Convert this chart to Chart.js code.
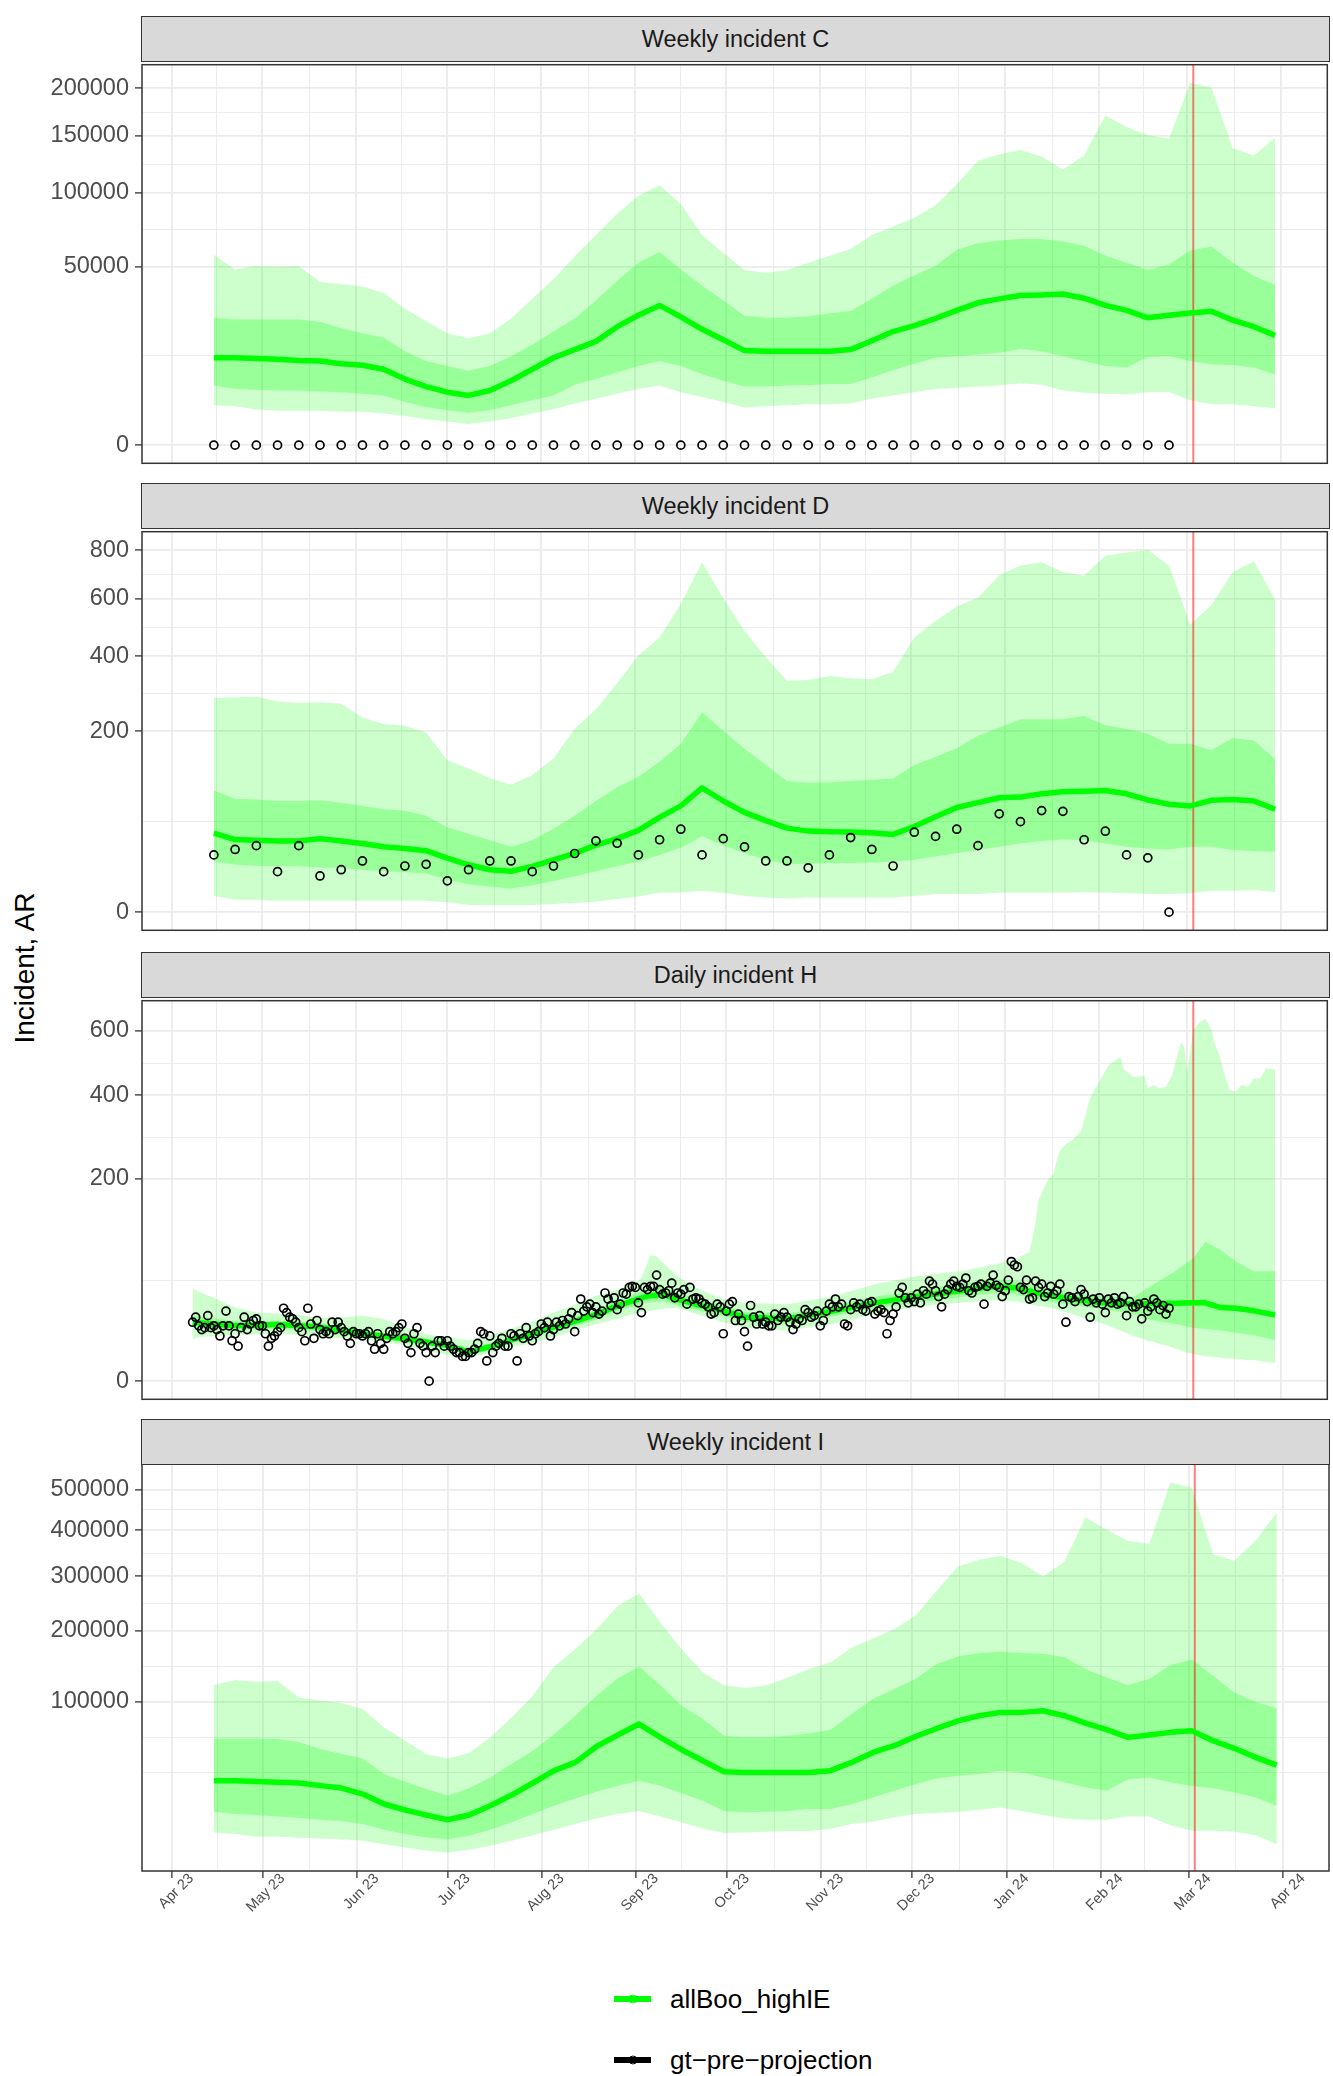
<!DOCTYPE html>
<html>
<head>
<meta charset="utf-8">
<script src="https://cdn.jsdelivr.net/npm/chart.js@4.4.1/dist/chart.umd.min.js"></script>
<style>
  body { margin: 0; background: #fff; font-family: "Liberation Sans", Arial, Helvetica, sans-serif; }
  #page { position: relative; width: 1333px; height: 2076px; overflow: hidden; background: #fff; }
  .panel { position: absolute; left: 0; }
  .strip { position: absolute; left: 141px; width: 1189px; height: 46px; box-sizing: border-box;
           background: #d9d9d9; border: 1.5px solid #333; color: #1a1a1a; font-size: 23.5px;
           display: flex; align-items: center; justify-content: center; }
  #ytitle { position: absolute; left: 25px; top: 968px; transform: translate(-50%, -50%) rotate(-90deg);
            font-size: 28px; color: #000; white-space: nowrap; }
  .legend-row { position: absolute; left: 614px; height: 30px; display: flex; align-items: center;
                font-size: 26px; color: #000; white-space: nowrap; }
  .key { position: relative; width: 37px; height: 6px; margin-right: 19px; }
  .key i { position: absolute; left: 50%; top: 50%; width: 7px; height: 7px; border-radius: 50%;
           transform: translate(-50%, -50%); border: 1.5px solid; background: transparent; }
</style>
</head>
<body>
<div id="page">
  <div id="ytitle">Incident, AR</div>
  <div class="legend-row" style="top:1984px"><div class="key" style="background:#00ff00"><i style="border-color:#00ff00"></i></div>allBoo_highIE</div>
  <div class="legend-row" style="top:2045px"><div class="key" style="background:#000"><i style="border-color:#000"></i></div>gt−pre−projection</div>
</div>
<script>
// ---- data -------------------------------------------------------------
const panelTitles = ['Weekly incident C', 'Weekly incident D', 'Daily incident H', 'Weekly incident I'];

const weekDates = [
  '2023-04-15','2023-04-22','2023-04-29','2023-05-06','2023-05-13','2023-05-20','2023-05-27','2023-06-03','2023-06-10','2023-06-17',
  '2023-06-24','2023-07-01','2023-07-08','2023-07-15','2023-07-22','2023-07-29','2023-08-05','2023-08-12','2023-08-19','2023-08-26',
  '2023-09-02','2023-09-09','2023-09-16','2023-09-23','2023-09-30','2023-10-07','2023-10-14','2023-10-21','2023-10-28','2023-11-04',
  '2023-11-11','2023-11-18','2023-11-25','2023-12-02','2023-12-09','2023-12-16','2023-12-23','2023-12-30','2024-01-06','2024-01-13',
  '2024-01-20','2024-01-27','2024-02-03','2024-02-10','2024-02-17','2024-02-24','2024-03-02','2024-03-09','2024-03-16','2024-03-23',
  '2024-03-30'
];
const projectionStart = '2024-03-03';

// Weekly incident C
const cMedian = [11990,12000,11810,11600,11280,11100,10420,10010,9050,6860,5390,4410,3884,4690,6520,9050,11990,14330,16890,22030,26500,30650,25830,21060,17430,14040,13850,13850,13850,13850,14330,17110,20240,22400,25180,28530,31810,33590,35110,35410,35880,33890,30650,28530,25440,26500,27430,28120,24530,22030,18870];
const cUpper95 = [56930,48480,50310,49930,50310,41860,40690,39550,36360,29240,24150,19660,17980,19660,25180,33590,43210,55970,69290,84040,97610,105980,91320,69290,57930,48120,46700,48120,52170,56350,60330,69290,74800,81210,90090,106800,126950,132860,136750,130760,119180,131640,170480,158830,150770,147600,206000,200460,138300,131640,148230];
const cUpper50 = [25440,24780,24780,24780,24780,23900,21430,19660,18200,13850,11100,9840,8670,9840,12440,15850,20240,25180,32850,42360,52170,58520,48480,39870,32850,26240,25440,25440,26090,27160,28260,33590,39870,45280,50310,59920,64000,65680,66720,66720,65030,62350,56350,52170,48120,51220,59500,61950,52170,44920,40200];
const cLower50 = [5570,4970,4800,4690,4690,4520,4410,4140,3885,2930,2300,1925,1647,1925,2500,3155,3885,5750,6860,8290,9840,11100,9840,7920,6520,5390,5390,5570,5690,5880,5880,7210,8820,10420,11990,12440,12900,13370,14530,13850,12440,11100,9840,9440,12170,12440,11100,10260,10090,9440,7920];
const cLower95 = [2500,2380,2000,1853,1853,1853,1750,1750,1582,1332,1049,871,711,871,1130,1582,2034,2710,3390,4140,4970,5570,4410,3630,2930,2220,2380,2500,2630,2630,2710,3390,3885,4410,4970,5150,5390,5570,6000,5750,4690,4300,4140,4040,4410,4410,3155,2630,2630,2380,2110];
const cObserved = [0,0,0,0,0,0,0,0,0,0,0,0,0,0,0,0,0,0,0,0,0,0,0,0,0,0,0,0,0,0,0,0,0,0,0,0,0,0,0,0,0,0,0,0,0,0];

// Weekly incident D
const dMedian = [38.2,32.2,31.6,31,31,33,31,28.8,26.1,24.8,23.1,17.8,13.7,11,10.2,12.8,16.7,21.1,27.4,33,40.8,54.9,69,94.2,75.4,60.7,51.2,43.1,40.1,39.5,39.2,38.5,36.9,44.8,55.6,66.8,73.2,79.9,80.8,85.5,88.4,89.3,90.3,85.5,76.8,71,68.9,76.3,77.6,75.4,64.7];
const dUpper95 = [280,282,284,271,267,269,265,231,216,212,197,141,126,110,99,115,144,205,251,320,402,460,580,747,601,483,397,327,329,340,334,331,352,460,517,570,604,692,733,747,706,690,775,789,801,733,505,576,706,750,595];
const dUpper50 = [90.3,78.6,77.6,75.4,75.4,76.3,73.2,68.9,64.7,62.7,56.8,44.1,37.6,31.6,26.1,31.6,42.4,56.8,75.4,95.2,112,138,173,244,201,163,132,105,102,103,105,107,109,132,147,164,190,208,227,227,227,235,213,205,194,173,173,160,185,180,143];
const dLower50 = [15.7,13.7,13.2,12.8,12.8,12.2,11.9,11,10.2,9.7,9.1,6.5,4.7,4,3.4,4.4,5.9,7.9,10.2,12.8,15.7,20,25.4,35.1,27.4,21.1,16.7,14.1,14.3,14.7,14.7,15.1,15.7,16.7,18.9,21.1,23.6,26.1,28.8,31,32.2,31.6,28.8,26.1,24.8,24,26.1,26.1,23.6,22.8,22.3];
const dLower95 = [1.6,0.94,0.94,0.8,0.8,0.8,0.8,0.8,0.8,0.8,0.8,0.59,0.32,0.32,0.32,0.32,0.41,0.51,0.67,1.04,1.5,2.3,2.35,2.8,2.3,1.6,1.3,1.15,1.3,1.3,1.3,1.3,1.3,1.6,2,2,2,2.3,2.3,2.3,2.3,2.5,2.3,2.2,2,2,2.2,2.8,2.8,3,2.5];
const dObserved = [20,24,27,10,27,8,11,16,10,13,14,6,11,16,16,10,13,21,31,29,20,32,42,20,33,26,16,16,12,20,34,24,13,39,35,42,27,59,50,63,62,32,40,20,18,0];

// Daily incident H
const hObsStart = '2023-04-08';
const hObserved = [
  17,20,15,13,14,21,14,15,13,10,15,24,15,8,11,6,14,20,13,16,18,19,15,
  15,11,6,9,10,12,14,26,23,20,19,17,14,12,8,26,16,9,18,13,11,12,11,17,13,17,14,12,10,7,12,
  11,11,10,11,12,8,5,11,7,5,9,12,11,12,14,16,9,7,4,11,14,7,6,4,0,6,4,8,8,6,
  8,6,5,4,4,3,3,4,4,5,7,12,11,2,10,4,6,7,9,6,6,11,10,2,11,9,14,10,8,11,12,
  16,14,17,10,13,17,15,18,16,19,23,12,21,33,24,27,29,23,27,22,24,38,33,28,34,25,29,38,37,43,44,
  43,30,23,43,41,44,44,55,41,37,38,40,47,34,38,37,41,29,43,33,34,33,30,29,27,22,23,29,27,11,
  24,29,31,18,22,18,12,6,28,20,16,21,16,17,15,15,22,18,20,23,20,17,13,16,19,18,25,23,20,21,24,
  15,18,24,29,27,33,27,29,16,15,25,30,27,29,25,24,30,31,22,24,25,23,11,18,22,27,38,43,34,30,
  34,31,37,30,40,37,49,46,40,35,27,37,41,46,49,44,43,46,52,40,38,43,44,46,29,44,47,55,45,43,35,
  40,50,70,66,64,43,41,50,33,34,49,43,46,35,38,44,37,40,46,29,17,35,34,31,35,41,37,31,20,33,30,
  34,29,23,33,30,34,29,30,35,21,31,27,27,29,19,30,24,27,33,30,25,28,22,26
];
const hOuterDates = [
  '2023-04-08','2023-04-11','2023-04-15','2023-04-22','2023-04-29','2023-05-06','2023-05-13','2023-05-20','2023-05-27','2023-06-03',
  '2023-06-10','2023-06-17','2023-06-24','2023-07-01','2023-07-08','2023-07-15','2023-07-22','2023-07-29','2023-08-05','2023-08-12',
  '2023-08-19','2023-08-26','2023-08-31','2023-09-03','2023-09-06','2023-09-08','2023-09-11','2023-09-15','2023-09-23','2023-09-30',
  '2023-10-07','2023-10-21','2023-11-05','2023-11-19','2023-12-03','2023-12-17','2023-12-28','2024-01-05','2024-01-09','2024-01-11',
  '2024-01-12','2024-01-14','2024-01-15','2024-01-17','2024-01-18','2024-01-19','2024-01-21','2024-01-23','2024-01-26','2024-01-29',
  '2024-02-01','2024-02-04','2024-02-07','2024-02-08','2024-02-09','2024-02-12','2024-02-14','2024-02-16','2024-02-17','2024-02-19',
  '2024-02-21','2024-02-23','2024-02-25','2024-02-27','2024-02-28','2024-02-29','2024-03-01','2024-03-03','2024-03-05','2024-03-07',
  '2024-03-09','2024-03-10','2024-03-12','2024-03-13','2024-03-15','2024-03-17','2024-03-19','2024-03-21','2024-03-23','2024-03-25',
  '2024-03-27','2024-03-30'
];
const hUpper95 = [42,38,34,26.5,23,22.4,21.6,19.5,19.9,20.9,18.9,14.3,10.7,9.5,8.2,10.3,13.4,17,23,28.4,35.4,41,45.6,52,78,76,66,53.6,40,33,30,29,35,46,54,59,66,74,82,123,161,185,198,211,239,260,275,283,306,392,438,488,508,513,477,453,453,456,419,429,419,424,458,529,561,545,468,605,628,642,605,561,508,468,415,410,429,424,448,448,477,475];
const hLower95 = [8.8,9.5,10,10.3,10.8,11,10.5,9.5,9,8.4,7.5,6.3,4.5,3.4,2.8,3.8,5.8,6.9,9.5,12.6,16,18.9,22,23,24,25,26,26,21,17,14,12.6,16,22,27,30,32,31,29,28,27.5,27,26.5,26,25,24.5,23,22,20,18,17,15,13,12.5,12,10,9.2,8.5,8,7.5,6.8,6.3,5.6,4.9,4.6,4.3,4,3.6,3.3,3.1,2.9,2.8,2.7,2.6,2.5,2.4,2.3,2.2,2.2,2,1.8,1.6];
const hInnerDates = [
  '2023-04-08','2023-04-22','2023-05-06','2023-05-20','2023-06-03','2023-06-17','2023-07-01','2023-07-08','2023-07-15','2023-07-22',
  '2023-07-29','2023-08-05','2023-08-12','2023-08-19','2023-08-26','2023-09-05','2023-09-10','2023-09-15','2023-09-23','2023-09-30',
  '2023-10-07','2023-10-21','2023-11-05','2023-11-19','2023-12-03','2023-12-17','2023-12-28','2024-01-05','2024-01-13','2024-01-23',
  '2024-02-02','2024-02-12','2024-02-19','2024-02-26','2024-03-03','2024-03-07','2024-03-12','2024-03-17','2024-03-23','2024-03-30'
];
const hLower50 = [14,13,13.5,12.3,9.5,7.5,5.3,3.5,4.9,7,9.5,12.3,15,18.5,24,30,31.5,28,23.7,20.7,17,16.2,20.5,25.8,30,34.4,38,36.5,31.8,28.3,25.7,22,18,16,14,13.3,12.6,11.5,10.3,8.2];
const hMedian = [17,15,15.7,14.3,11,8.8,6.3,4.2,5.8,8.2,11,14.3,17.5,21.6,27.7,35.4,36.8,32.7,27.7,24.2,20,19,24,30,35,40,44,42.5,37,33,30,29,29.5,29.7,30,30,26.5,26,24.2,21.4];
const hUpper50 = [21,17.5,18,16.5,12.8,10.3,7.4,5,6.8,9.6,12.8,16.5,20.3,25,32,41,44,38,32,28,23.3,22.2,28,34.8,40.5,46.3,51,49,43,38.5,35,34,46,59,74,95,84,70,59,59];

// Weekly incident I
const iMedian = [29200,29200,28800,28200,27800,26200,24800,21400,16400,13700,11600,9800,11600,15600,20900,27800,35900,41900,54800,65100,75800,62900,52000,43100,35100,34700,34700,34700,34700,35900,41900,49700,55400,63700,71400,79100,84500,88100,88100,89900,84500,76800,70200,62900,65100,67600,69200,59900,53200,45800,39900];
const iUpper95 = [120500,126900,124800,125600,105200,101200,98600,91800,72400,59700,48300,44900,49200,62900,82700,107300,145500,170900,202600,243200,266000,213800,170900,137200,120300,116900,120300,130400,141800,151200,173300,187400,202600,225400,271200,319900,334000,342500,327000,299400,329700,430000,400700,375500,368300,518700,505500,346000,331700,375500,442200];
const iUpper50 = [61900,61900,61900,61300,58400,52600,48400,44900,33600,28600,24200,20600,24600,31300,40700,51200,65900,84500,107300,129200,145500,120300,95500,80900,64500,62900,62900,64500,66600,70100,86200,103200,115500,128300,148800,159900,164800,166900,164800,163900,159000,141800,130400,120300,128300,147400,155000,132700,111300,100200,92500];
const iLower50 = [12900,12000,11600,11000,10500,9800,9300,8300,6500,5300,4400,4000,4870,6500,8900,12000,15600,19100,22700,26100,29200,26100,21800,18000,13300,12700,12900,13300,14100,14100,16300,19600,23200,27100,30700,32500,33600,35900,34700,31300,28200,25200,23200,30200,31300,28200,26000,24800,22300,19600,15600];
const iLower95 = [5720,5300,4570,4570,4330,4170,4000,3640,2930,2300,1750,1500,1910,2610,3640,5000,6500,8300,10300,12000,13300,11000,8800,6900,5540,5720,5900,6100,6100,6740,8300,9100,10700,12000,12400,12900,13800,14800,13300,11600,10300,9800,9800,11000,11000,7900,6200,6200,5900,5000,2930];

// axes
const monthStarts = ['2023-04-01','2023-05-01','2023-06-01','2023-07-01','2023-08-01','2023-09-01','2023-10-01','2023-11-01','2023-12-01','2024-01-01','2024-02-01','2024-03-01','2024-04-01'];
const monthLabels = ['Apr 23','May 23','Jun 23','Jul 23','Aug 23','Sep 23','Oct 23','Nov 23','Dec 23','Jan 24','Feb 24','Mar 24','Apr 24'];
const yBreaks = [
  [0, 50000, 100000, 150000, 200000],
  [0, 200, 400, 600, 800],
  [0, 200, 400, 600],
  [0, 100000, 200000, 300000, 400000, 500000]
];

// ---- helpers ----------------------------------------------------------
const FONT = '"Liberation Sans", Arial, Helvetica, sans-serif';
const dayNum = s => { const [y, m, d] = s.split('-').map(Number); return Date.UTC(y, m - 1, d) / 86400000; };
const sgnSqrt = v => v < 0 ? -Math.sqrt(-v) : Math.sqrt(v);
const unSqrt = t => t < 0 ? -t * t : t * t;
const xMin = dayNum('2023-04-01') - 9.7;
const xMax = dayNum('2023-04-01') + 381.2;

class SqrtScale extends Chart.LinearScale {
  getPixelForValue(v) {
    if (v === null || v === undefined || isNaN(v)) return NaN;
    const a = sgnSqrt(this._startValue), b = sgnSqrt(this._endValue);
    return this.getPixelForDecimal((sgnSqrt(v) - a) / (b - a));
  }
  getValueForPixel(p) {
    const a = sgnSqrt(this._startValue), b = sgnSqrt(this._endValue);
    return unSqrt(a + this.getDecimalForPixel(p) * (b - a));
  }
}
SqrtScale.id = 'sqrt';
SqrtScale.defaults = {};
Chart.register(SqrtScale);

// ggplot-like minor breaks: midpoints (in transformed space) plus one step beyond
function withMinors(majorT, lo, hi) {
  const b = majorT.filter(t => t >= lo && t <= hi);
  const ext = b.slice();
  const bd = b[1] - b[0];
  if (lo < b[0]) ext.unshift(b[0] - bd);
  if (hi > b[b.length - 1]) ext.push(b[b.length - 1] + bd);
  const out = [];
  for (let i = 0; i < ext.length; i++) {
    out.push(ext[i]);
    if (i < ext.length - 1) out.push((ext[i] + ext[i + 1]) / 2);
  }
  return { majors: b, minors: out.filter(t => t > lo && t < hi && !b.some(m => Math.abs(m - t) < 1e-9)) };
}

const xTicks = (() => {
  const mt = monthStarts.map(dayNum);
  const { majors, minors } = withMinors(mt, xMin, xMax);
  const t = majors.map(v => ({ value: v, isMajor: true, text: monthLabels[mt.indexOf(v)] }));
  minors.filter(v => v > xMin + 1 && v < xMax - 1).forEach(v => t.push({ value: v, isMajor: false, text: '' }));
  return t.sort((a, b) => a.value - b.value);
})();

function yLimits(arrays) {
  const all = arrays.flat().map(sgnSqrt);
  const lo = Math.min(...all), hi = Math.max(...all), e = (hi - lo) * 0.05;
  return [lo - e, hi + e];
}
function yTicksFor(breaks, lo, hi) {
  const { majors, minors } = withMinors(breaks.map(Math.sqrt), lo, hi);
  const t = majors.map(m => ({ value: unSqrt(m), isMajor: true, text: String(Math.round(unSqrt(m))) }));
  minors.forEach(m => t.push({ value: unSqrt(m), isMajor: false, text: '' }));
  return t.sort((a, b) => a.value - b.value);
}

const pts = (xs, ys) => ys.map((v, i) => ({ x: dayNum(xs[i]), y: v }));
function band(xs, lo, hi, color, order) {
  return [
    { label: 'lo', data: pts(xs, lo), borderColor: 'rgba(0,0,0,0)', borderWidth: 0, pointRadius: 0, fill: false, order },
    { label: 'hi', data: pts(xs, hi), borderColor: 'rgba(0,0,0,0)', borderWidth: 0, pointRadius: 0, fill: '-1', backgroundColor: color, order }
  ];
}
const medianSet = data => ({ label: 'median', data, borderColor: '#00ff00', borderWidth: 5.5, borderJoinStyle: 'round', pointRadius: 0, fill: false, order: 2 });
const obsSet = data => ({ label: 'obs', data, showLine: false, pointRadius: 4, pointBorderWidth: 1.7, pointBorderColor: '#000', pointBackgroundColor: 'rgba(0,0,0,0)', order: 1 });
const OUTER = 'rgba(0,255,0,0.2)', INNER = 'rgba(0,255,0,0.25)';

function weeklySets(lo95, hi95, lo50, hi50, med, obs) {
  const s = [...band(weekDates, lo95, hi95, OUTER, 4), ...band(weekDates, lo50, hi50, INNER, 3), medianSet(pts(weekDates, med))];
  if (obs) s.push(obsSet(pts(weekDates, obs)));
  return s;
}
const hStart = dayNum(hObsStart);

const panelData = [
  { sets: weeklySets(cLower95, cUpper95, cLower50, cUpper50, cMedian, cObserved), values: [cLower95, cUpper95, cObserved] },
  { sets: weeklySets(dLower95, dUpper95, dLower50, dUpper50, dMedian, dObserved), values: [dLower95, dUpper95, dObserved] },
  { sets: [...band(hOuterDates, hLower95, hUpper95, OUTER, 4), ...band(hInnerDates, hLower50, hUpper50, INNER, 3),
           medianSet(pts(hInnerDates, hMedian)), obsSet(hObserved.map((v, i) => ({ x: hStart + i, y: v })))],
    values: [hLower95, hUpper95, hObserved] },
  { sets: weeklySets(iLower95, iUpper95, iLower50, iUpper50, iMedian, null), values: [iLower95, iUpper95] }
];

const decor = {
  id: 'decor',
  beforeDatasetDraw(chart, args) {
    if (chart.data.datasets[args.index].label !== 'median') return;
    const { ctx, chartArea: a } = chart;
    const px = chart.scales.x.getPixelForValue(dayNum(projectionStart));
    ctx.save();
    ctx.strokeStyle = 'rgba(255,0,0,0.5)';
    ctx.lineWidth = 2;
    ctx.beginPath(); ctx.moveTo(px, a.top); ctx.lineTo(px, a.bottom); ctx.stroke();
    ctx.restore();
  },
  afterDraw(chart) {
    const { ctx, chartArea: a } = chart;
    ctx.save();
    ctx.strokeStyle = '#333333';
    ctx.lineWidth = 1.5;
    ctx.strokeRect(a.left, a.top, a.right - a.left, a.bottom - a.top);
    ctx.restore();
  }
};

const gridOpts = drawTicks => ({
  color: '#ebebeb',
  lineWidth: c => (c.tick && c.tick.isMajor) ? 1.8 : 0.9,
  drawTicks, tickLength: 7, tickWidth: 1.3,
  tickColor: c => (c.tick && c.tick.isMajor) ? '#333333' : 'rgba(0,0,0,0)'
});

// ---- layout -----------------------------------------------------------
const plotTop = [61, 528, 997, 1464];
const plotBottom = [467, 934, 1403, 1871];
const page = document.getElementById('page');

panelData.forEach((p, i) => {
  const last = i === panelData.length - 1;
  const h = plotBottom[i] - plotTop[i];
  const canvasH = last ? h + 2 + 60 : h + 4;
  const wrap = document.createElement('div');
  wrap.className = 'panel';
  wrap.style.top = (plotTop[i] - 2) + 'px';
  wrap.style.width = '1333px';
  wrap.style.height = canvasH + 'px';
  const cv = document.createElement('canvas');
  cv.width = 1333; cv.height = canvasH;
  cv.style.width = '1333px'; cv.style.height = canvasH + 'px';
  wrap.appendChild(cv);
  page.appendChild(wrap);

  const strip = document.createElement('div');
  strip.className = 'strip';
  strip.style.top = (plotTop[i] - 45) + 'px';
  strip.textContent = panelTitles[i];
  page.appendChild(strip);

  const [lo, hi] = yLimits(p.values);
  const yt = yTicksFor(yBreaks[i], lo, hi);

  new Chart(cv, {
    type: 'line',
    data: { datasets: p.sets },
    options: {
      responsive: false, animation: false, devicePixelRatio: 1, events: [],
      layout: { padding: { top: 2, bottom: last ? 0 : 2, left: 0, right: 4 } },
      plugins: { legend: { display: false }, tooltip: { enabled: false } },
      scales: {
        x: {
          type: 'linear', min: xMin, max: xMax, bounds: 'data',
          afterBuildTicks: s => { s.ticks = xTicks.map(t => ({ ...t })); },
          afterFit: s => { s.height = last ? 60 : 0; s.paddingLeft = 0; s.paddingRight = 0; },
          grid: gridOpts(last),
          border: { display: false },
          ticks: {
            display: last, autoSkip: false, maxRotation: 45, minRotation: 45,
            padding: -8, labelOffset: 20, color: '#4d4d4d',
            font: { family: FONT, size: 14.5 },
            callback: (v, idx, ticks) => ticks[idx].text || ''
          }
        },
        y: {
          type: 'sqrt', min: unSqrt(lo), max: unSqrt(hi), bounds: 'data',
          afterBuildTicks: s => { s.ticks = yt.map(t => ({ ...t })); },
          afterFit: s => { s.width = 142; s.paddingTop = 0; s.paddingBottom = 0; },
          grid: gridOpts(true),
          border: { display: false },
          ticks: {
            autoSkip: false, padding: 6, color: '#4d4d4d',
            font: { family: FONT, size: 23.5 },
            callback: (v, idx, ticks) => ticks[idx].text || ''
          }
        }
      }
    },
    plugins: [decor]
  });
});
</script>
</body>
</html>
